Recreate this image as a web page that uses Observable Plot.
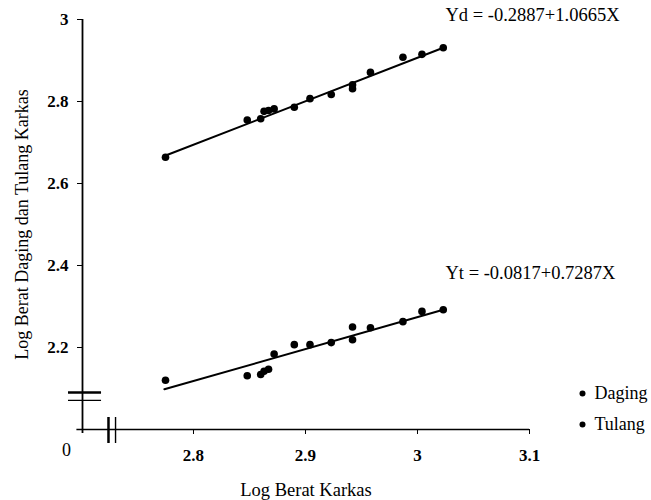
<!DOCTYPE html>
<html><head><meta charset="utf-8">
<script src="https://cdn.jsdelivr.net/npm/d3@7"></script>
<script src="https://cdn.jsdelivr.net/npm/@observablehq/plot@0.6"></script>
<style>
body{margin:0;background:#fff}
#chart svg{display:block}
#chart svg text{font-family:"Liberation Serif","Times New Roman",serif}
#chart svg text.sans{font-family:"Liberation Sans",Arial,sans-serif}
</style>
</head><body><div id="chart"></div>
<script>
// Log carcass weight (shared x for both series)
const karkas = [2.775, 2.848, 2.860, 2.863, 2.867, 2.872, 2.890, 2.904, 2.923, 2.942, 2.942, 2.958, 2.987, 3.004, 3.023];
// Log meat weight (Daging)
const daging = [2.664, 2.755, 2.758, 2.776, 2.778, 2.782, 2.786, 2.807, 2.817, 2.831, 2.841, 2.871, 2.908, 2.915, 2.931];
// Log bone weight (Tulang)
const tulang = [2.120, 2.131, 2.134, 2.142, 2.147, 2.184, 2.207, 2.207, 2.212, 2.219, 2.250, 2.248, 2.263, 2.288, 2.292];
// Regression line end points
const lineX = [2.774, 3.023];
const lineD = [2.667, 2.931];
const lineT = [2.098, 2.292];
// Axis ticks
const xTicks = [2.8, 2.9, 3, 3.1];
const yTicks = [2.2, 2.4, 2.6, 2.8, 3];
const xDomain = [2.7009, 3.1];
const yDomain = [2, 3];
// Axis breaks
const yBreak = [2.090, 2.071];
const xBreak = [2.7241, 2.7304];
// Texts
const eqD = "Yd = -0.2887+1.0665X";
const eqT = "Yt = -0.0817+0.7287X";
const seriesNames = ["Daging", "Tulang"];
const xTitle = "Log Berat Karkas";
const yTitle = "Log Berat Daging dan Tulang Karkas";
const originLabel = "0";

const ptsD = karkas.map((x, i) => ({x, y: daging[i]}));
const ptsT = karkas.map((x, i) => ({x, y: tulang[i]}));
const lnD = lineX.map((x, i) => ({x, y: lineD[i]}));
const lnT = lineX.map((x, i) => ({x, y: lineT[i]}));

const font = "'Liberation Serif', 'Times New Roman', serif";

const chart = Plot.plot({
  width: 651,
  height: 500,
  marginLeft: 82,
  marginRight: 122,
  marginTop: 19,
  marginBottom: 71,
  style: {fontFamily: font, background: "#fff", color: "#000"},
  x: {domain: xDomain},
  y: {domain: yDomain},
  marks: [
    Plot.axisX(xTicks, {tickSize: 5, tickPadding: 14, fontSize: 17, fontWeight: "bold", label: null, tickFormat: d => `${d}`, stroke: "#000", fill: "#000"}),
    Plot.axisY(yTicks, {tickSize: 5, tickPadding: 9, fontSize: 17, fontWeight: "bold", label: null, tickFormat: d => `${d}`, stroke: "#000", fill: "#000"}),
    Plot.ruleX([xDomain[0]], {y1: yDomain[0] - 0.01, y2: yDomain[1], stroke: "#000", strokeWidth: 1.8, clip: false}),
    Plot.ruleY([yDomain[0]], {x1: xDomain[0] - 0.005, x2: xDomain[1], stroke: "#000", strokeWidth: 1.5, clip: false}),
    // axis breaks
    Plot.ruleY([yBreak[0]], {x1: xDomain[0] - 0.0125, x2: xDomain[0] + 0.0170, stroke: "#000", strokeWidth: 2.5, clip: false}),
    Plot.ruleY([yBreak[1]], {x1: xDomain[0] - 0.0125, x2: xDomain[0] + 0.0170, stroke: "#000", strokeWidth: 1.4, clip: false}),
    Plot.ruleX([xBreak[0]], {y1: 2.0293, y2: 1.9659, stroke: "#000", strokeWidth: 2.5, clip: false}),
    Plot.ruleX([xBreak[1]], {y1: 2.0293, y2: 1.9659, stroke: "#000", strokeWidth: 1.4, clip: false}),
    Plot.text([originLabel], {x: xDomain[0], y: yDomain[0], text: d => d, dx: -16, dy: 21, fontSize: 18, fill: "#000", className: "sans"}),
    // regression lines
    Plot.line(lnD, {x: "x", y: "y", stroke: "#000", strokeWidth: 2}),
    Plot.line(lnT, {x: "x", y: "y", stroke: "#000", strokeWidth: 2}),
    // points
    Plot.dot(ptsD, {x: "x", y: "y", r: 3.8, fill: "#000"}),
    Plot.dot(ptsT, {x: "x", y: "y", r: 3.8, fill: "#000"}),
    // equations
    Plot.text([eqD], {frameAnchor: "top-right", text: d => d, dx: -84, dy: -4, textAnchor: "start", lineAnchor: "middle", fontSize: 18.5, fill: "#000"}),
    Plot.text([eqT], {frameAnchor: "right", text: d => d, dx: -84, dy: 49, textAnchor: "start", lineAnchor: "middle", fontSize: 18.5, fill: "#000"}),
    // legend
    Plot.dot([seriesNames[0]], {frameAnchor: "right", dx: 53, dy: 169, r: 3, fill: "#000"}),
    Plot.dot([seriesNames[1]], {frameAnchor: "right", dx: 53, dy: 200, r: 3, fill: "#000"}),
    Plot.text([seriesNames[0]], {frameAnchor: "right", text: d => d, dx: 65, dy: 169, textAnchor: "start", lineAnchor: "middle", fontSize: 18, fill: "#000"}),
    Plot.text([seriesNames[1]], {frameAnchor: "right", text: d => d, dx: 65, dy: 200, textAnchor: "start", lineAnchor: "middle", fontSize: 18, fill: "#000"}),
    // axis titles
    Plot.text([xTitle], {frameAnchor: "bottom", text: d => d, dy: 61, textAnchor: "middle", lineAnchor: "middle", fontSize: 18.5, fill: "#000"}),
    Plot.text([yTitle], {frameAnchor: "left", text: d => d, dx: -60, rotate: -90, textAnchor: "middle", lineAnchor: "middle", fontSize: 18, fill: "#000"})
  ]
});
document.getElementById("chart").appendChild(chart);
</script>
</body></html>
